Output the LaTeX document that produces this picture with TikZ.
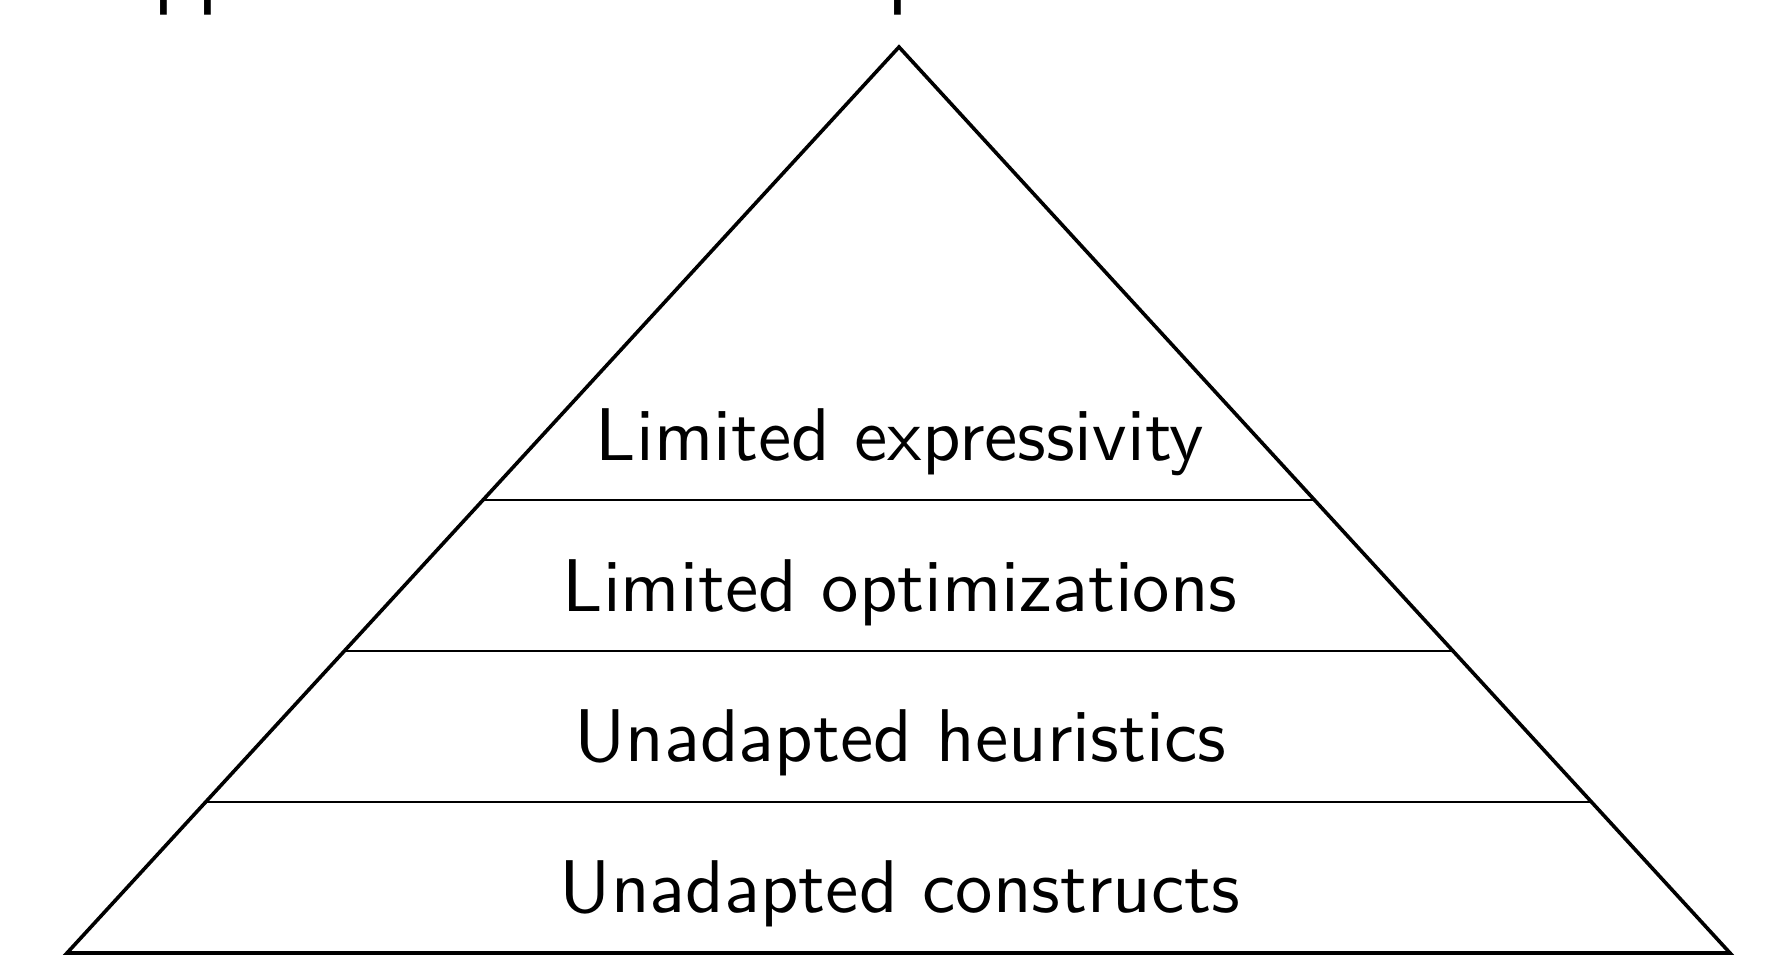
\documentclass[tikz,border=0pt]{standalone}
\usetikzlibrary{calc}
\begin{document}
\begin{tikzpicture}[x=1pt,y=-1pt,
  side/.style={line width=3.6pt, line join=miter},
  tier/.style={line width=2pt},
  tierlabel/.style={anchor=base, scale=7.47, inner sep=0pt, font=\sffamily\fontsize{10}{12}\selectfont},
  titletext/.style={anchor=base west, scale=8.6, inner sep=0pt, font=\sffamily\fontsize{10}{12}\selectfont}]
\useasboundingbox (0,0) rectangle (1766,954);
\clip (0,0) rectangle (1766,954);
\node[titletext] (title) at (94,-1.5) {Approaches and their problems};
\coordinate (apex) at (899,47);
\coordinate (bl) at (67,953);
\coordinate (br) at (1730,953);
\coordinate (l1) at ($(bl)!1/6!(apex)$);
\coordinate (r1) at ($(br)!1/6!(apex)$);
\coordinate (l2) at ($(bl)!2/6!(apex)$);
\coordinate (r2) at ($(br)!2/6!(apex)$);
\coordinate (l3) at ($(bl)!3/6!(apex)$);
\coordinate (r3) at ($(br)!3/6!(apex)$);
\draw[tier] (l1) -- (r1);
\draw[tier] (l2) -- (r2);
\draw[tier] (l3) -- (r3);
\draw[side] (bl) -- (apex) -- (br) -- cycle;
\node[tierlabel] (t4) at (900,460) {Limited expressivity};
\node[tierlabel] (t3) at (900,611) {Limited optimizations};
\node[tierlabel] (t2) at (900,761) {Unadapted heuristics};
\node[tierlabel] (t1) at (900,912) {Unadapted constructs};
\end{tikzpicture}
\end{document}
